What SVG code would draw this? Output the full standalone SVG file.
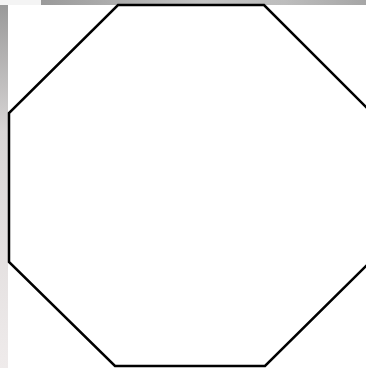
<svg xmlns="http://www.w3.org/2000/svg" width="366" height="368" viewBox="0 0 366 368">
  <defs>
    <linearGradient id="topbar" x1="0" y1="0" x2="1" y2="0">
      <stop offset="0" stop-color="#9a9a9a"/>
      <stop offset="0.5" stop-color="#c4c4c4"/>
      <stop offset="0.75" stop-color="#bdbdbd"/>
      <stop offset="1" stop-color="#a6a6a6"/>
    </linearGradient>
    <linearGradient id="leftbar" x1="0" y1="0" x2="0" y2="1">
      <stop offset="0" stop-color="#9a9a9a"/>
      <stop offset="0.35" stop-color="#d8d5d5"/>
      <stop offset="1" stop-color="#efebeb"/>
    </linearGradient>
    <style>
      .shape { fill: #ffffff; stroke: #000000; stroke-width: 2.5; stroke-linejoin: miter; }
    </style>
  </defs>
  <rect x="0" y="0" width="366" height="368" fill="#ffffff"/>
  <rect x="0" y="0" width="41" height="5" fill="#f4f4f4"/>
  <rect x="41" y="0" width="325" height="5" fill="url(#topbar)"/>
  <rect x="0" y="5" width="8" height="363" fill="url(#leftbar)"/>
  <g id="octagon">
    <polygon class="shape" points="118,5 264,5 369,110 369,263 265,366 115,366 9,262 9,113"/>
  </g>
</svg>
